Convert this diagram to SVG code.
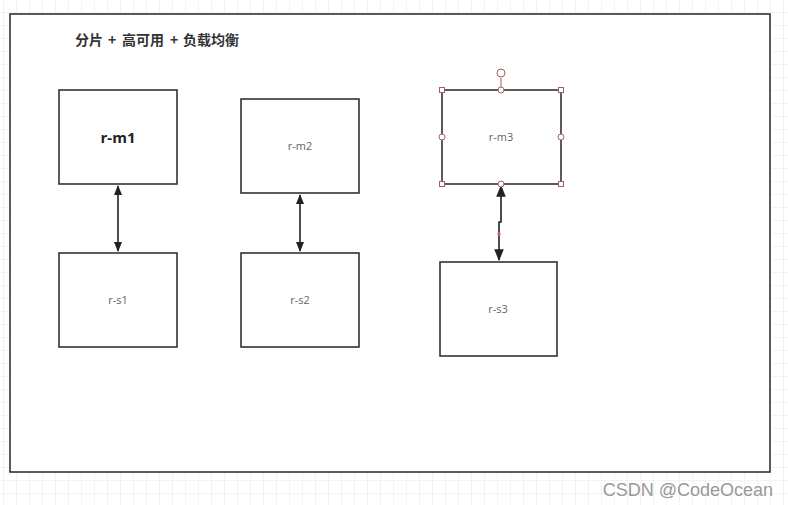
<svg xmlns="http://www.w3.org/2000/svg" width="788" height="505" viewBox="0 0 788 505">
<defs>
<pattern id="grid" width="13" height="13" patternUnits="userSpaceOnUse" x="4" y="0">
<path d="M13 0V13M0 13H13" fill="none" stroke="#e6e6e6" stroke-width="1"/>
</pattern>
<marker id="ah" viewBox="0 0 10 10" refX="9" refY="5" markerWidth="10" markerHeight="10" markerUnits="userSpaceOnUse" orient="auto-start-reverse">
<path d="M0 1L10 5L0 9Z" fill="#222"/>
</marker>
<marker id="ah2" viewBox="0 0 10 10" refX="9" refY="5" markerWidth="12" markerHeight="12" markerUnits="userSpaceOnUse" orient="auto-start-reverse">
<path d="M0 1L10 5L0 9Z" fill="#222"/>
</marker>
</defs>
<style>
.box{fill:#fff;stroke:#333;stroke-width:1.6}
.lbl{font-family:"Segoe UI","Open Sans","Liberation Sans",sans-serif;font-size:11px;fill:#666;text-anchor:middle}
.conn{fill:none;stroke:#222;stroke-width:1.6}
.h{fill:#fff;stroke:#a06060;stroke-width:1}
</style>
<rect width="788" height="505" fill="#fff"/>
<rect width="788" height="505" fill="url(#grid)"/>
<g id="frame">
<rect x="10" y="14" width="760" height="458" fill="#fff" stroke="#333" stroke-width="1.6"/>
<text y="45" font-family="'Noto Sans CJK SC',sans-serif" font-size="14" font-weight="bold" fill="#333"><tspan x="75">分片</tspan><tspan x="108">+</tspan><tspan x="122">高可用</tspan><tspan x="170">+</tspan><tspan x="183">负载均衡</tspan></text>
</g>
<g id="connectors">
<line class="conn" x1="118" y1="186" x2="118" y2="251" marker-start="url(#ah)" marker-end="url(#ah)"/>
<line class="conn" x1="300" y1="195" x2="300" y2="251" marker-start="url(#ah)" marker-end="url(#ah)"/>
<path class="conn" d="M501 186V222H499V260" marker-start="url(#ah2)" marker-end="url(#ah2)"/>
<circle cx="499" cy="234" r="1.8" fill="#e06080"/>
</g>
<g id="r-m1">
<rect class="box" x="59" y="90" width="118" height="94"/>
<text x="118" y="143" font-family="'Segoe UI','Open Sans','Liberation Sans',sans-serif" font-size="15" font-weight="bold" fill="#222" text-anchor="middle">r-m1</text>
</g>
<g id="r-m2">
<rect class="box" x="241" y="99" width="118" height="94"/>
<text class="lbl" x="300" y="150">r-m2</text>
</g>
<g id="r-m3">
<rect class="box" x="442" y="90" width="119" height="94"/>
<text class="lbl" x="501" y="141">r-m3</text>
<line x1="501" y1="78" x2="501" y2="90" stroke="#a06060" stroke-width="1"/>
<circle class="h" cx="501" cy="73" r="4"/>
<rect class="h" x="439.5" y="87.5" width="5" height="5"/>
<rect class="h" x="558.5" y="87.5" width="5" height="5"/>
<rect class="h" x="439.5" y="181.5" width="5" height="5"/>
<rect class="h" x="558.5" y="181.5" width="5" height="5"/>
<circle class="h" cx="501" cy="90" r="3"/>
<circle class="h" cx="442" cy="137" r="3"/>
<circle class="h" cx="561" cy="137" r="3"/>
<circle class="h" cx="501" cy="184" r="3"/>
</g>
<g id="r-s1">
<rect class="box" x="59" y="253" width="118" height="94"/>
<text class="lbl" x="118" y="304">r-s1</text>
</g>
<g id="r-s2">
<rect class="box" x="241" y="253" width="118" height="94"/>
<text class="lbl" x="300" y="304">r-s2</text>
</g>
<g id="r-s3">
<rect class="box" x="440" y="262" width="117" height="94"/>
<text class="lbl" x="498" y="313">r-s3</text>
</g>
<text x="773" y="496" font-family="'Liberation Sans',sans-serif" font-size="18" fill="#999" text-anchor="end">CSDN @CodeOcean</text>
</svg>
